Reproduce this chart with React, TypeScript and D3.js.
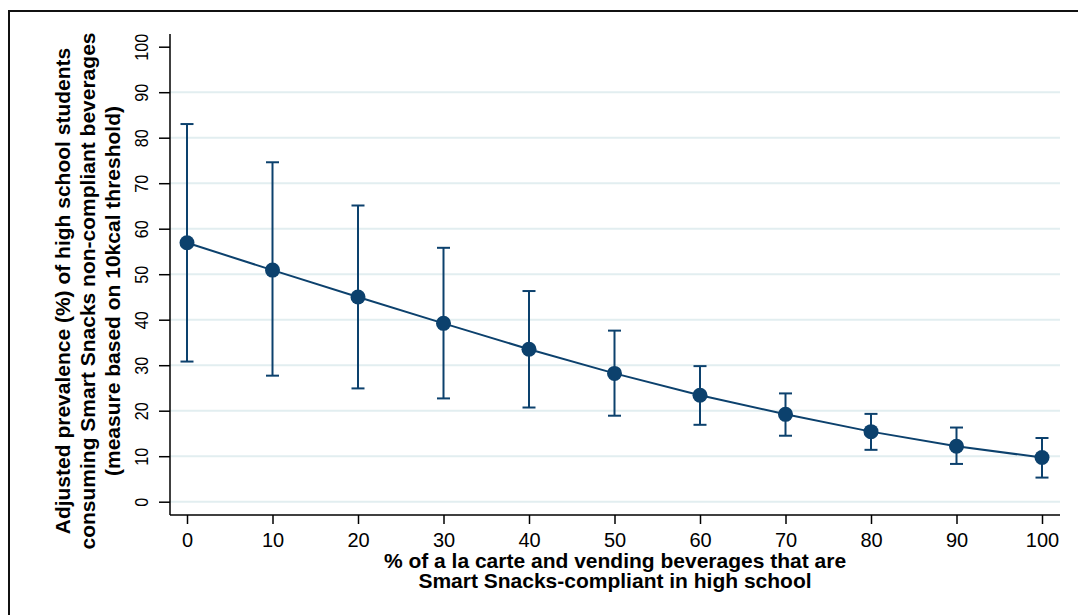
import React, { useRef, useEffect } from 'react';
import * as d3 from 'd3';

// share of compliant beverages (%)
const xValues = [0, 10, 20, 30, 40, 50, 60, 70, 80, 90, 100];
// adjusted prevalence (%) and 95% CI
const estimates = [56.9, 50.9, 45.0, 39.2, 33.5, 28.2, 23.4, 19.2, 15.4, 12.2, 9.7];
const lower = [30.8, 27.7, 24.9, 22.7, 20.7, 18.9, 16.9, 14.5, 11.4, 8.3, 5.3];
const upper = [83.0, 74.6, 65.1, 55.8, 46.3, 37.6, 29.8, 23.8, 19.3, 16.3, 14.0];
const yTicks = [0, 10, 20, 30, 40, 50, 60, 70, 80, 90, 100];
const gridTicks = [0, 10, 20, 30, 40, 50, 60, 70, 80, 90];

const yTitle = [
  'Adjusted prevalence (%) of high school students',
  'consuming Smart Snacks non-compliant beverages',
  '(measure based on 10kcal threshold)',
];
const xTitle = [
  '% of a la carte and vending beverages that are',
  'Smart Snacks-compliant in high school',
];

const NAVY = '#0c416d';
const FONT = '"Liberation Sans", Arial, sans-serif';

const Chart = ({ width = 1078, height = 615 }) => {
  const ref = useRef(null);

  useEffect(() => {
    const svg = d3.select(ref.current);
    svg.selectAll('*').remove();

    // outer frame
    svg.append('rect')
      .attr('x', 9)
      .attr('y', 11)
      .attr('width', 1200)
      .attr('height', 800)
      .attr('fill', '#fff')
      .attr('stroke', '#111')
      .attr('stroke-width', 2);

    const plot = { left: 170, right: 1060, top: 34, bottom: 515 };

    const x = d3.scaleLinear().domain([0, 100]).range([187, 1042]);
    const y = d3.scaleLinear().domain([0, 100]).range([501.7, 46.7]);

    // gridlines
    svg.append('g')
      .selectAll('line')
      .data(gridTicks)
      .join('line')
      .attr('x1', plot.left)
      .attr('x2', plot.right)
      .attr('y1', d => y(d))
      .attr('y2', d => y(d))
      .attr('stroke', '#e2eef0')
      .attr('stroke-width', 2);

    // y axis
    const yAxis = svg.append('g')
      .attr('transform', `translate(${plot.left}, 0)`)
      .call(d3.axisLeft(y).tickValues(yTicks).tickSize(11).tickPadding(6).tickSizeOuter(0));
    yAxis.select('.domain').remove();
    yAxis.append('line')
      .attr('y1', plot.top)
      .attr('y2', plot.bottom)
      .attr('stroke', '#000')
      .attr('stroke-width', 1.5);
    yAxis.selectAll('.tick line').attr('stroke', '#000').attr('stroke-width', 1.5);
    yAxis.selectAll('.tick text')
      .attr('fill', '#000')
      .style('font-family', FONT)
      .style('font-size', '18px')
      .attr('text-anchor', 'middle')
      .attr('x', 0)
      .attr('dy', 0)
      .attr('transform', 'translate(-22, 0) rotate(-90) scale(0.9, 1)');

    // x axis
    const xAxis = svg.append('g')
      .attr('transform', `translate(0, ${plot.bottom})`)
      .call(d3.axisBottom(x).tickValues(xValues).tickSize(9).tickPadding(9).tickSizeOuter(0));
    xAxis.select('.domain').remove();
    xAxis.append('line')
      .attr('x1', plot.left)
      .attr('x2', plot.right)
      .attr('stroke', '#000')
      .attr('stroke-width', 1.5);
    xAxis.selectAll('.tick line').attr('stroke', '#000').attr('stroke-width', 1.5);
    xAxis.selectAll('.tick text')
      .attr('fill', '#000')
      .style('font-family', FONT)
      .style('font-size', '20px');

    // error bars
    const capW = 6.5;
    const bars = svg.append('g')
      .attr('stroke', NAVY)
      .attr('stroke-width', 2);
    xValues.forEach((v, i) => {
      bars.append('line')
        .attr('x1', x(v)).attr('x2', x(v))
        .attr('y1', y(lower[i])).attr('y2', y(upper[i]));
      bars.append('line')
        .attr('x1', x(v) - capW).attr('x2', x(v) + capW)
        .attr('y1', y(lower[i])).attr('y2', y(lower[i]));
      bars.append('line')
        .attr('x1', x(v) - capW).attr('x2', x(v) + capW)
        .attr('y1', y(upper[i])).attr('y2', y(upper[i]));
    });

    // estimate line + markers
    const line = d3.line()
      .x((d, i) => x(xValues[i]))
      .y(d => y(d));
    svg.append('path')
      .datum(estimates)
      .attr('d', line)
      .attr('fill', 'none')
      .attr('stroke', NAVY)
      .attr('stroke-width', 2);

    svg.append('g')
      .selectAll('circle')
      .data(estimates)
      .join('circle')
      .attr('cx', (d, i) => x(xValues[i]))
      .attr('cy', d => y(d))
      .attr('r', 7.5)
      .attr('fill', NAVY);

    // x title
    svg.append('g')
      .selectAll('text')
      .data(xTitle)
      .join('text')
      .attr('x', (plot.left + plot.right) / 2)
      .attr('y', (d, i) => 568 + i * 20)
      .attr('text-anchor', 'middle')
      .style('font-family', FONT)
      .style('font-size', '21px')
      .style('font-weight', 'bold')
      .text(d => d);

    // y title
    svg.append('g')
      .selectAll('text')
      .data(yTitle)
      .join('text')
      .attr('transform', (d, i) => `translate(${70 + i * 25}, 291) rotate(-90)`)
      .attr('text-anchor', 'middle')
      .style('font-family', FONT)
      .style('font-size', '21px')
      .style('font-weight', 'bold')
      .text(d => d);
  }, [width, height]);

  return (
    <svg
      ref={ref}
      width={width}
      height={height}
      style={{ position: 'absolute', left: 0, top: 0, background: '#fff' }}
    />
  );
};

export default function App() {
  return <Chart />;
}
